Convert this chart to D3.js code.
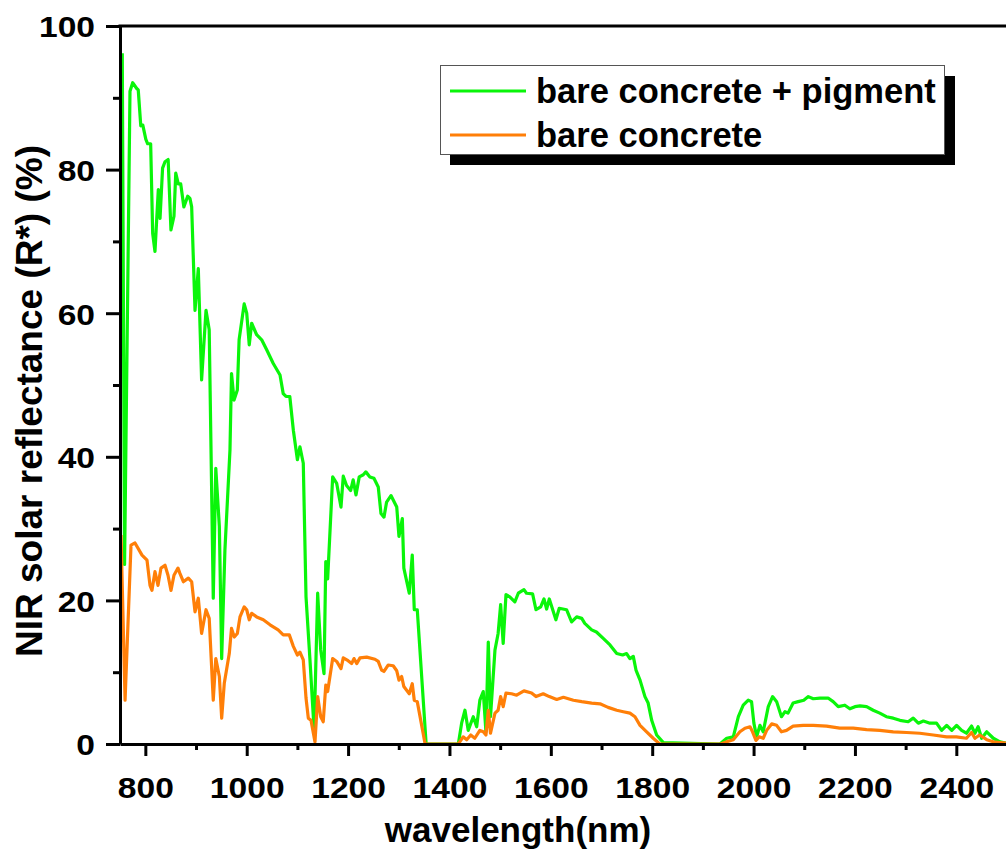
<!DOCTYPE html>
<html>
<head>
<meta charset="utf-8">
<script src="https://cdn.jsdelivr.net/npm/d3@7"></script>
<style>
  html, body { margin: 0; padding: 0; background: #fff; }
  svg { display: block; }
  text { font-family: "Liberation Sans", Arial, sans-serif; font-weight: bold; fill: #000; }
</style>
</head>
<body>
<figure style="margin:0"></figure>
<script>
// ---------- data ----------
const seriesNames = ["bare concrete + pigment", "bare concrete"]
const seriesColors = ["#0af50a", "#ff7f08"]

// bare concrete + pigment
const pigmentWl = [754.5, 759, 769.7, 775, 783, 786, 791, 795, 801, 804.6, 810.5, 814.5, 819, 825.6, 829, 834, 838.8, 845, 850.5, 856.5, 860, 865, 869.8, 876, 883.5, 888, 891.4, 898, 904.5, 911, 919.7, 926, 934, 939, 946, 950.6, 957, 967, 970, 975, 981.5, 985, 995, 1000, 1005, 1009.8, 1019.6, 1029.5, 1039.4, 1052.4, 1065.7, 1072, 1077.5, 1085, 1092, 1100, 1105, 1111.6, 1117, 1124.8, 1133, 1140, 1146, 1152.5, 1156, 1159.7, 1169.6, 1177.5, 1186, 1190.5, 1197, 1205, 1210, 1215.6, 1222, 1230, 1235, 1243, 1251, 1259.5, 1264.9, 1270.8, 1276, 1284.6, 1296, 1300.4, 1307, 1310, 1320.7, 1326.6, 1330.6, 1336.5, 1354, 1417.5, 1424, 1430.6, 1437, 1447, 1453.7, 1460, 1466.7, 1472, 1476.6, 1481, 1489.8, 1496, 1501, 1506, 1511.5, 1519, 1529, 1535.8, 1547, 1552, 1564, 1570.7, 1580, 1586.5, 1591.7, 1597, 1610, 1616.6, 1631, 1641, 1651, 1661, 1667, 1680.6, 1690, 1703.4, 1716.7, 1730, 1741.6, 1749.5, 1756, 1762.7, 1768, 1776, 1785.7, 1792, 1799, 1808.8, 1822, 1933.7, 1947, 1960, 1970, 1979.6, 1989.5, 1996, 2000.6, 2006, 2012.5, 2019, 2029, 2037.5, 2045.5, 2055, 2062, 2068, 2078, 2088, 2099, 2108, 2117.7, 2131, 2147, 2157, 2167, 2180, 2190, 2200, 2210, 2223, 2236, 2249, 2262, 2275.6, 2288.8, 2305, 2315, 2325, 2335, 2348, 2361, 2371, 2381, 2391, 2400.6, 2410.5, 2420, 2430, 2436.7, 2443, 2450, 2460, 2473, 2486, 2500]
const pigmentR = [96.2, 25, 90.9, 92.1, 91.3, 91.1, 86.1, 86.2, 84.2, 83.6, 83.6, 71.1, 68.6, 77.2, 73.2, 80.2, 81.1, 81.4, 71.6, 73.5, 79.5, 78, 78, 74.8, 76.3, 76, 74.8, 60.4, 66.2, 50.7, 60.4, 57.7, 20.3, 38.4, 30.3, 11.9, 27, 41, 51.6, 47.9, 49.3, 56.3, 61.3, 60, 55.6, 58.6, 57, 56.3, 54.9, 53, 51.4, 48.8, 48.4, 48.4, 43.7, 39.6, 41.4, 39.1, 20.5, 11.7, 1.9, 21, 13.1, 9.8, 25.4, 23, 37.2, 36.3, 33, 37.3, 36, 35.3, 36.8, 34.7, 37.2, 37.5, 37.9, 37.2, 37, 35.8, 32.1, 31.6, 33.7, 34.6, 33, 28.9, 31.4, 24.5, 21, 26.3, 18.7, 18.7, 0, 0, 2.9, 4.7, 1.9, 3.8, 2.4, 6.1, 7.3, 1.7, 14.2, 3.8, 13.1, 15.4, 19.4, 14, 20.8, 20.5, 19.8, 21, 21.5, 21, 20.9, 18.7, 19.1, 20.2, 18.8, 20.2, 17.3, 18.9, 18.7, 17, 17.7, 17.5, 16.8, 15.9, 15.6, 14.7, 13.8, 12.6, 12.4, 12.6, 11.9, 12.2, 10.3, 8.9, 6.6, 5.7, 3.3, 1.25, 0.2, 0, 0.8, 1, 3.8, 5.4, 6.1, 5.9, 2.9, 1, 2.6, 1.7, 5.2, 6.6, 5.9, 3.8, 4.5, 4.3, 5.7, 5.9, 6.1, 6.6, 6.3, 6.4, 6.4, 5.9, 5.2, 5.4, 4.9, 5.2, 5.3, 5.2, 4.7, 4.3, 3.8, 3.6, 3.3, 3.1, 3.6, 2.9, 3.2, 2.9, 2.9, 1.9, 2.6, 1.9, 2.6, 1.9, 1.5, 2.5, 1.5, 2.4, 0.8, 1.7, 0.8, 0.3, 0.1]

// bare concrete
const bareWl = [752, 760, 771.7, 779.6, 793.4, 803.3, 809.2, 813.1, 819, 825, 830.9, 838.8, 844.7, 850.6, 856.5, 864.4, 868, 875, 884.8, 891.4, 898, 904.5, 911, 919.7, 926, 934, 939, 946, 950.6, 955.8, 965.6, 970, 975.5, 981.5, 986.7, 995, 1000, 1005, 1009.8, 1019.6, 1032.7, 1046, 1062, 1072, 1084, 1092, 1100, 1105, 1111.6, 1117, 1121.5, 1126.8, 1134.7, 1140, 1146, 1151, 1156, 1159.7, 1169.6, 1177.5, 1186, 1190.5, 1200, 1207, 1211.6, 1217, 1223.5, 1236.7, 1253, 1259.5, 1266, 1270.8, 1279, 1289, 1296, 1300.4, 1305.7, 1310, 1320.7, 1326.6, 1330.6, 1336.5, 1352, 1417.5, 1427, 1434, 1442, 1450, 1460, 1466.7, 1472, 1476.6, 1481, 1489.8, 1496, 1501, 1506, 1511.5, 1522.6, 1532.5, 1547, 1562, 1570.7, 1585, 1597, 1611.6, 1624.8, 1644.5, 1661, 1680.6, 1697, 1713, 1730, 1743, 1756, 1766, 1776, 1789, 1802, 1815, 1935, 1947, 1960, 1973, 1983, 1993, 1998, 2004.7, 2011, 2019, 2025.8, 2035.7, 2045.5, 2055, 2065, 2078, 2098, 2117.7, 2144, 2170, 2196.6, 2223, 2249, 2275.6, 2302, 2328, 2354.5, 2381, 2400, 2420, 2430, 2436.7, 2446, 2460, 2473, 2500]
const bareR = [29.1, 6.1, 27.7, 28, 26.3, 25.6, 22.1, 21.4, 24, 22.1, 24.5, 24.9, 23.5, 21.4, 23.5, 24.5, 23.8, 22.6, 23.1, 22.6, 18.4, 20.3, 15.4, 18.7, 17.5, 6.1, 11.9, 9.4, 3.6, 8.5, 12.6, 16.1, 14.9, 15.4, 17.7, 19.1, 18.7, 17.3, 18.2, 17.7, 17.3, 16.6, 15.9, 15.2, 15.2, 13.6, 12.4, 12.8, 11.7, 6.4, 3.6, 3.3, 0.3, 6.6, 3.8, 3.1, 8.2, 7.3, 11.9, 11.5, 10.5, 12, 11.6, 11.2, 11.9, 11.2, 12, 12.1, 11.8, 11.5, 10.3, 10.1, 11, 10.9, 10.2, 8.9, 9.4, 8, 7, 8.4, 6.1, 5.9, 0, 0, 1, 0.6, 1.25, 0.8, 1.9, 1.7, 1.25, 4.7, 1.5, 4.3, 4.7, 6.6, 5.2, 7.1, 7, 6.8, 7.4, 7.1, 6.6, 7, 6.6, 6.2, 6.5, 6.1, 5.9, 5.7, 5.6, 5.1, 4.7, 4.5, 4.3, 3.8, 2.6, 1.7, 0.8, 0, 0, 0.3, 0.6, 1.7, 2.2, 2.4, 1.7, 0.5, 1, 0.8, 1.9, 2.8, 2.6, 1.7, 1.9, 2.5, 2.6, 2.6, 2.5, 2.2, 2.2, 2, 1.9, 1.7, 1.6, 1.5, 1.25, 1, 1, 0.8, 1.6, 0.8, 1.25, 0.6, 0.3, 0.1]

const xTicks = [800, 1000, 1200, 1400, 1600, 1800, 2000, 2200, 2400]
const xMinor = [900, 1100, 1300, 1500, 1700, 1900, 2100, 2300]
const yTicks = [0, 20, 40, 60, 80, 100]
const yMinor = [10, 30, 50, 70, 90]

// ---------- svg setup ----------
const svgWidth = 1006
const svgHeight = 852
const margin = { left: 120, top: 26, bottom: 108 }
const plotRight = 1007
const stretch = 1.12 // tick digits in the picture are a bit wider than Arial

const svg = d3.select('figure')
  .append('svg')
  .attr('width', svgWidth)
  .attr('height', svgHeight)

const x = d3.scaleLinear().domain([750, 2500]).range([margin.left, plotRight])
const y = d3.scaleLinear().domain([0, 100]).range([svgHeight - margin.bottom, margin.top])

svg.append('clipPath').attr('id', 'plotclip')
  .append('rect')
  .attr('x', margin.left).attr('y', margin.top)
  .attr('width', plotRight - margin.left)
  .attr('height', y(0) - margin.top)

// ---------- lines ----------
const series = [
  pigmentWl.map((w, i) => [w, pigmentR[i]]),
  bareWl.map((w, i) => [w, bareR[i]])
]

const line = d3.line().x(d => x(d[0])).y(d => y(d[1]))

svg.append('g').attr('clip-path', 'url(#plotclip)')
  .selectAll('path')
  .data(series)
  .enter().append('path')
  .attr('d', line)
  .attr('fill', 'none')
  .attr('stroke', (d, i) => seriesColors[i])
  .attr('stroke-width', 3.2)
  .attr('stroke-linejoin', 'round')

// ---------- axes ----------
function styleAxis(g) {
  g.select('.domain').attr('stroke', '#000').attr('stroke-width', 3)
  g.selectAll('.tick line').attr('stroke', '#000').attr('stroke-width', 3)
  g.selectAll('.tick text').style('font-size', '30px').attr('fill', '#000')
}

// x axis
const xAxisG = svg.append('g')
  .attr('transform', `translate(0,${y(0)})`)
  .call(d3.axisBottom(x).tickValues(xTicks).tickSize(12).tickSizeOuter(0).tickFormat(d3.format('d')))
  .call(styleAxis)
xAxisG.selectAll('.tick text')
  .attr('y', 33).attr('dy', '0.71em')
  .attr('transform', `scale(${stretch},1)`)

svg.append('g')
  .attr('transform', `translate(0,${y(0)})`)
  .call(d3.axisBottom(x).tickValues(xMinor).tickSize(6).tickFormat(''))
  .call(styleAxis)
  .select('.domain').remove()

// y axis
const yAxisG = svg.append('g')
  .attr('transform', `translate(${margin.left},0)`)
  .call(d3.axisLeft(y).tickValues(yTicks).tickSize(14).tickSizeOuter(0))
  .call(styleAxis)
yAxisG.selectAll('.tick text')
  .attr('x', -25 / stretch).attr('dy', '0.36em')
  .attr('transform', `scale(${stretch},1)`)

svg.append('g')
  .attr('transform', `translate(${margin.left},0)`)
  .call(d3.axisLeft(y).tickValues(yMinor).tickSize(7).tickFormat(''))
  .call(styleAxis)
  .select('.domain').remove()

// top frame line
svg.append('line')
  .attr('x1', margin.left - 1.5).attr('x2', svgWidth)
  .attr('y1', y(100)).attr('y2', y(100))
  .attr('stroke', '#000').attr('stroke-width', 3)

// ---------- axis titles ----------
svg.append('text')
  .attr('x', 518)
  .attr('y', 842)
  .attr('text-anchor', 'middle')
  .style('font-size', '35px')
  .text('wavelength(nm)')

svg.append('text')
  .attr('transform', 'translate(42,401) rotate(-90)')
  .attr('text-anchor', 'middle')
  .style('font-size', '37px')
  .text('NIR solar reflectance (R*) (%)')

// ---------- legend ----------
const legend = svg.append('g')

legend.append('rect')
  .attr('x', 450).attr('y', 76)
  .attr('width', 505).attr('height', 89)
  .attr('fill', '#000')

legend.append('rect')
  .attr('x', 440.5).attr('y', 65.5)
  .attr('width', 504).attr('height', 89)
  .attr('fill', '#fff')
  .attr('stroke', '#555').attr('stroke-width', 1)

const legendY = [91, 135]

legend.selectAll('.lg-line')
  .data(seriesNames)
  .enter().append('line')
  .attr('x1', 450).attr('x2', 526)
  .attr('y1', (d, i) => legendY[i]).attr('y2', (d, i) => legendY[i])
  .attr('stroke', (d, i) => seriesColors[i])
  .attr('stroke-width', 3)

legend.selectAll('.lg-text')
  .data(seriesNames)
  .enter().append('text')
  .attr('x', 536)
  .attr('y', (d, i) => legendY[i] + 12)
  .style('font-size', '34.5px')
  .text(d => d)
</script>
</body>
</html>
